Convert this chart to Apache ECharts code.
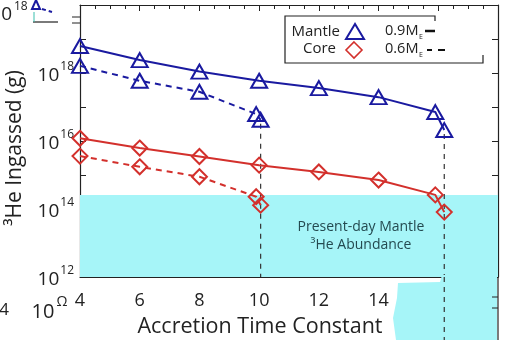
<!DOCTYPE html>
<html>
<head>
<meta charset="utf-8">
<script src="https://cdn.jsdelivr.net/npm/echarts@6/dist/echarts.min.js"></script>
<style>
html,body{margin:0;padding:0;background:#fff;}
#c{width:510px;height:340px;}
</style>
</head>
<body>
<div id="c"></div>
<script>
// Accretion time constant (x) and 3He ingassed (g)
const mantle09X = [4, 6, 8, 10, 12, 14, 15.9, 16.2];
const mantle09Y = [6.2e18, 2.4e18, 1.1e18, 5.9e17, 3.6e17, 1.95e17, 7.1e16, 2.1e16];
const mantle06X = [4, 6, 8, 9.9, 10.05];
const mantle06Y = [1.62e18, 5.9e17, 2.8e17, 6.2e16, 4.2e16];
const core09X = [4, 6, 8, 10, 12, 14, 15.9, 16.2];
const core09Y = [1.2e16, 6.2e15, 3.5e15, 1.95e15, 1.23e15, 7.1e14, 2.6e14, 8.1e13];
const core06X = [4, 6, 8, 9.9, 10.05];
const core06Y = [3.6e15, 1.74e15, 8.9e14, 2.3e14, 1.3e14];
const presentDayMantle = 2.6e14;
const guideX = [10.05, 16.2];
const guideTop = [3.2e16, 1.6e16];
const xTicks = [4, 6, 8, 10, 12, 14];
const yLabelExps = [12, 14, 16, 18];

const BLUE = '#1a1aa0';
const RED = '#d3302c';
const CYAN = '#a6f5f8';
const FF = '"Open Sans", "Noto Sans", sans-serif';

const zip = (xs, ys) => xs.map((x, i) => [x, ys[i]]);

function markSeries(name, xs, ys, color, sym, dashed) {
  return {
    name, type: 'line', xAxisIndex: 0, yAxisIndex: 0,
    data: zip(xs, ys),
    symbol: sym, symbolSize: sym === 'triangle' ? [16, 14] : [15, 15],
    itemStyle: { color: 'rgba(255,255,255,0)', borderColor: color, borderWidth: 2 },
    lineStyle: { color, width: 2, type: dashed ? [6, 5] : 'solid' },
    z: 5, animation: false
  };
}

const chart = echarts.init(document.getElementById('c'), null, { renderer: 'canvas' });

const series = [];
series.push({
  type: 'line', xAxisIndex: 0, yAxisIndex: 0, data: [], silent: true,
  markArea: {
    silent: true,
    itemStyle: { color: CYAN },
    data: [[{ coord: [4, 1e12] }, { coord: [18, presentDayMantle] }]]
  },
  animation: false
});
guideX.forEach((gx, i) => {
  series.push({
    type: 'line', xAxisIndex: 0, yAxisIndex: 0,
    data: [[gx, guideTop[i]], [gx, 1e12]],
    symbol: 'none',
    lineStyle: { color: '#333', width: 1.2, type: [5, 5] },
    z: 3, animation: false
  });
});
series.push(markSeries('Mantle 0.9', mantle09X, mantle09Y, BLUE, 'triangle', false));
series.push(markSeries('Mantle 0.6', mantle06X, mantle06Y, BLUE, 'triangle', true));
series.push(markSeries('Core 0.9', core09X, core09Y, RED, 'diamond', false));
series.push(markSeries('Core 0.6', core06X, core06Y, RED, 'diamond', true));

const axisCommon = {
  axisLine: { show: true, lineStyle: { color: '#222', width: 1.2 } },
  splitLine: { show: false }
};

const option = {
  animation: false,
  backgroundColor: '#fff',
  grid: { left: 80, right: 12, top: 5, bottom: 63 },
  xAxis: [
    Object.assign({
      type: 'value', position: 'bottom', min: 4, max: 18, interval: 2,
      axisTick: { inside: true, length: 6, lineStyle: { color: '#222' } },
      minorTick: { show: true, splitNumber: 4, length: 4, lineStyle: { color: '#222' } },
      axisLabel: {
        margin: 15, fontSize: 18, color: '#222', fontFamily: FF,
        formatter: v => (xTicks.indexOf(v) >= 0 ? String(v) : '')
      }
    }, axisCommon),
    Object.assign({
      type: 'value', position: 'top', min: 4, max: 18, interval: 2,
      axisTick: { inside: true, length: 6, lineStyle: { color: '#222' } },
      minorTick: { show: true, splitNumber: 4, length: 4, lineStyle: { color: '#222' } },
      axisLabel: { show: false }
    }, axisCommon)
  ],
  yAxis: [
    Object.assign({
      type: 'log', logBase: 10, position: 'left', min: 1e12, max: 1e20, interval: 1,
      axisTick: { inside: true, length: 6, lineStyle: { color: '#222' } },
      axisLabel: {
        margin: 6, color: '#222', fontFamily: FF,
        formatter: v => {
          const e = Math.round(Math.log10(v));
          return yLabelExps.indexOf(e) >= 0 ? '{b|10}{s|' + e + '}' : '';
        },
        rich: {
          b: { fontSize: 19, fontFamily: FF, color: '#222', lineHeight: 24, verticalAlign: 'bottom' },
          s: { fontSize: 12, fontFamily: FF, color: '#222', lineHeight: 24, verticalAlign: 'top', padding: [0, 0, 9, 1] }
        }
      }
    }, axisCommon),
    Object.assign({
      type: 'log', logBase: 10, position: 'right', min: 1e12, max: 1e20, interval: 1,
      axisTick: { inside: true, length: 6, lineStyle: { color: '#222' } },
      axisLabel: { show: false }
    }, axisCommon)
  ],
  series,
  graphic: []
};
chart.setOption(option);

function txt(text, x, y, size, opts) {
  return Object.assign({ type: 'text', z: 50, x, y,
    style: Object.assign({ text, fontSize: size, fontFamily: FF, fill: '#222', align: 'left', verticalAlign: 'middle' }, (opts && opts.style) || {})
  }, (opts && opts.el) || {});
}

const g = [];
// axis titles
g.push(txt('Accretion Time Constant', 260, 327, 21.5, { style: { align: 'center' } }));
g.push(txt('\u00B3He Ingassed (g)', 15, 148, 21, { style: { align: 'center' }, el: { rotation: Math.PI / 2 } }));
// band text
g.push(txt('Present-day Mantle', 361, 227, 14, { style: { align: 'center', fill: '#244a50' } }));
g.push(txt('\u00B3He Abundance', 361, 245, 14, { style: { align: 'center', fill: '#244a50' } }));

// legend box
g.push({ type: 'rect', z: 39, shape: { x: 286, y: 17, width: 196, height: 45 }, style: { fill: '#fff' } });
g.push({ type: 'polyline', z: 40, shape: { points: [[435, 21], [435, 16], [285, 16], [285, 63], [483, 63], [483, 55]] },
  style: { stroke: '#222', lineWidth: 1.2, fill: null } });
g.push(txt('Mantle', 340, 32, 15, { style: { align: 'right' } }));
g.push(txt('Core', 336, 49, 15, { style: { align: 'right' } }));
g.push({ type: 'polygon', z: 41, shape: { points: [[355, 24], [346, 39], [364, 39]] }, style: { fill: null, stroke: BLUE, lineWidth: 2 } });
g.push({ type: 'polygon', z: 41, shape: { points: [[354, 42], [362, 50], [354, 58], [346, 50]] }, style: { fill: null, stroke: RED, lineWidth: 1.6 } });
g.push(txt('0.9M', 385, 31, 14.5));
g.push(txt('E', 419, 37, 7));
g.push(txt('0.6M', 385, 49, 14.5));
g.push(txt('E', 419, 55, 7));
g.push({ type: 'line', z: 41, shape: { x1: 425, y1: 31, x2: 435, y2: 31 }, style: { stroke: '#111', lineWidth: 2.5 } });
g.push({ type: 'line', z: 41, shape: { x1: 427, y1: 50, x2: 432, y2: 50 }, style: { stroke: '#111', lineWidth: 2 } });
g.push({ type: 'line', z: 41, shape: { x1: 438, y1: 50, x2: 445, y2: 50 }, style: { stroke: '#111', lineWidth: 2 } });

// continuation of right guide below the axis, and cyan patch
const gx2 = chart.convertToPixel({ xAxisIndex: 0 }, guideX[1]);
g.push({ type: 'polygon', z: 60, shape: { points: [[398, 283], [440, 282], [442, 275], [497, 275], [497, 340], [396, 340], [393, 318], [397, 298]] },
  style: { fill: CYAN } });
g.push({ type: 'line', z: 61, shape: { x1: gx2, y1: 277, x2: gx2, y2: 340 }, style: { stroke: '#333', lineWidth: 1.2, lineDash: [5, 5] } });
g.push({ type: 'line', z: 61, shape: { x1: 498, y1: 277, x2: 498, y2: 340 }, style: { stroke: '#222', lineWidth: 1.2 } });
g.push({ type: 'line', z: 61, shape: { x1: 492, y1: 297, x2: 498, y2: 297 }, style: { stroke: '#222', lineWidth: 1 } });
g.push({ type: 'line', z: 61, shape: { x1: 492, y1: 308, x2: 498, y2: 308 }, style: { stroke: '#222', lineWidth: 1 } });

// overlapped fragments at the edges
g.push(txt('10', 12, 15, 19, { style: { align: 'right' } }));
g.push(txt('18', 14, 7, 12));
g.push({ type: 'polygon', z: 50, shape: { points: [[36, 0], [32, 9], [40, 9]] }, style: { fill: null, stroke: BLUE, lineWidth: 2 } });
g.push({ type: 'line', z: 50, shape: { x1: 42, y1: 9, x2: 52, y2: 12 }, style: { stroke: BLUE, lineWidth: 2, lineDash: [4, 3] } });
g.push({ type: 'line', z: 50, shape: { x1: 33, y1: 22, x2: 58, y2: 22 }, style: { stroke: '#222', lineWidth: 1.2 } });
g.push({ type: 'line', z: 50, shape: { x1: 34, y1: 12, x2: 34, y2: 22 }, style: { stroke: '#3bbfae', lineWidth: 1 } });
g.push({ type: 'line', z: 50, shape: { x1: 72, y1: 17, x2: 80, y2: 17 }, style: { stroke: '#222', lineWidth: 1 } });
g.push({ type: 'line', z: 50, shape: { x1: 72, y1: 23, x2: 80, y2: 23 }, style: { stroke: '#222', lineWidth: 1 } });
g.push(txt('4', 4, 310, 17, { style: { align: 'center' } }));
g.push(txt('10', 43, 312, 20, { style: { align: 'center' } }));
g.push(txt('\u03A9', 62, 302, 14, { style: { align: 'center' } }));

chart.setOption({ graphic: g });
</script>
</body>
</html>
